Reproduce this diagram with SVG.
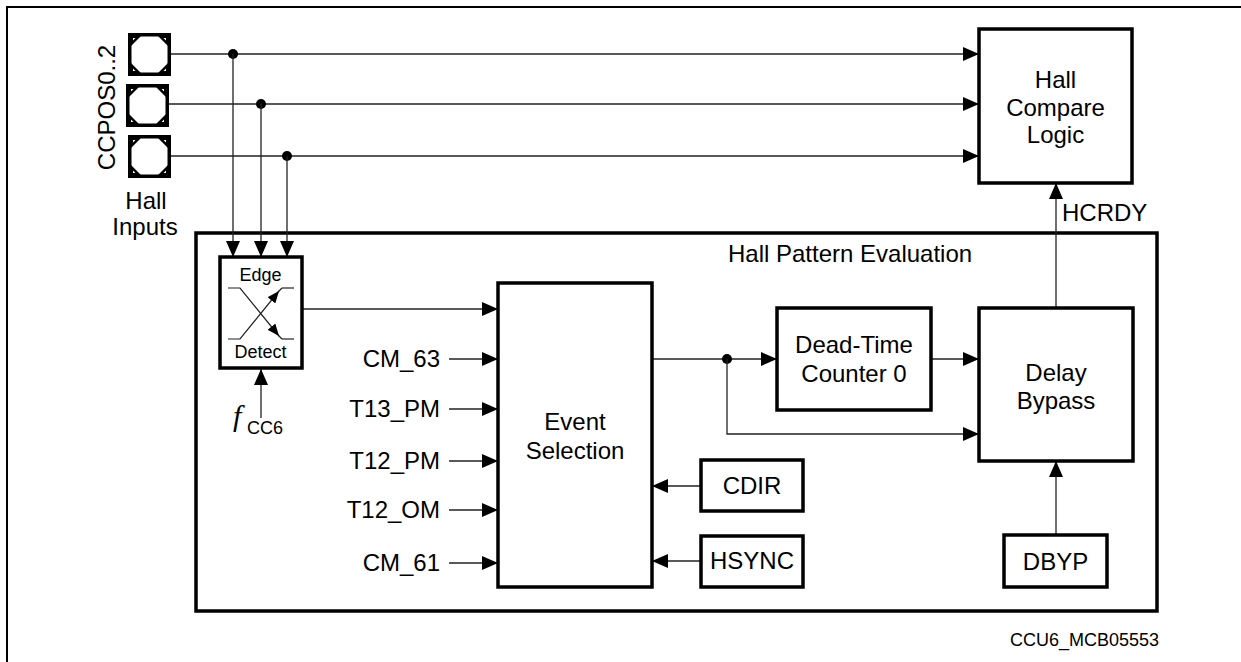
<svg xmlns="http://www.w3.org/2000/svg" width="1241" height="662" viewBox="0 0 1241 662">
<style>
  text { font-family: "Liberation Sans", Arial, sans-serif; font-size: 24px; fill: #000; }
  .box { fill: #fff; stroke: #000; stroke-width: 3.5; }
  .frame { fill: none; stroke: #000; stroke-width: 2; }
  .wire { fill: none; stroke: #222; stroke-width: 1.3; }
  .arr { marker-end: url(#ah); }
  .dot { fill: #000; }
  .mid { text-anchor: middle; }
  .end { text-anchor: end; }
  .sm { font-size: 18px; }
</style>
<defs>
  <marker id="ah" markerUnits="userSpaceOnUse" markerWidth="16" markerHeight="14" refX="16" refY="7" orient="auto">
    <path d="M0,0 L16,7 L0,14 z" fill="#000"/>
  </marker>
  <marker id="ahs" markerUnits="userSpaceOnUse" markerWidth="12" markerHeight="10" refX="12" refY="5" orient="auto">
    <path d="M0,0 L12,5 L0,10 z" fill="#000"/>
  </marker>
  <g id="pad">
    <rect x="1.75" y="1.75" width="39.5" height="39.5" fill="#fff" stroke="#000" stroke-width="3.5"/>
    <path d="M3,3 H13 L3,13 z M40,3 H30 L40,13 z M3,40 H13 L3,30 z M40,40 H30 L40,30 z" fill="#000"/>
    <path d="M5,5 H7.5 L5,7.5 z M38,5 H35.5 L38,7.5 z M5,38 H7.5 L5,35.5 z M38,38 H35.5 L38,35.5 z" fill="#fff"/>
  </g>
</defs>

<!-- outer frame -->
<path class="frame" d="M7,662 V7 H1241"/>

<!-- Hall inputs -->
<g id="hall-inputs">
  <use href="#pad" x="128" y="33"/>
  <use href="#pad" x="126" y="84"/>
  <use href="#pad" x="128" y="135"/>
  <text transform="translate(115,107.5) rotate(-90)" class="mid">CCPOS0..2</text>
  <text x="146" y="209" class="mid">Hall</text>
  <text x="145" y="235" class="mid">Inputs</text>
</g>

<!-- Hall Pattern Evaluation container -->
<g id="hall-pattern-evaluation">
  <rect class="box" x="196" y="233" width="961" height="378" fill="none"/>
  <text x="728" y="262">Hall Pattern Evaluation</text>
</g>

<!-- connectors -->
<g id="connectors">
  <line class="wire arr" x1="171" y1="54" x2="979" y2="54"/>
  <line class="wire arr" x1="169" y1="104" x2="979" y2="104"/>
  <line class="wire arr" x1="171" y1="156" x2="979" y2="156"/>
  <circle class="dot" cx="233" cy="54" r="5"/>
  <circle class="dot" cx="261" cy="104" r="5"/>
  <circle class="dot" cx="287" cy="156" r="5"/>
  <line class="wire arr" x1="233" y1="54" x2="233" y2="257"/>
  <line class="wire arr" x1="261" y1="104" x2="261" y2="257"/>
  <line class="wire arr" x1="287" y1="156" x2="287" y2="257"/>
  <line class="wire arr" x1="261" y1="418" x2="261" y2="369"/>
  <line class="wire arr" x1="302" y1="309" x2="498" y2="309"/>
  <line class="wire arr" x1="449" y1="359" x2="498" y2="359"/>
  <line class="wire arr" x1="449" y1="409" x2="498" y2="409"/>
  <line class="wire arr" x1="449" y1="461" x2="498" y2="461"/>
  <line class="wire arr" x1="449" y1="510" x2="498" y2="510"/>
  <line class="wire arr" x1="449" y1="563" x2="498" y2="563"/>
  <line class="wire arr" x1="701" y1="486" x2="652" y2="486"/>
  <line class="wire arr" x1="701" y1="561" x2="652" y2="561"/>
  <line class="wire arr" x1="652" y1="359" x2="777" y2="359"/>
  <circle class="dot" cx="727" cy="359" r="5"/>
  <polyline class="wire arr" points="727,359 727,434 979,434"/>
  <line class="wire arr" x1="931" y1="359" x2="979" y2="359"/>
  <line class="wire arr" x1="1056" y1="535" x2="1056" y2="461"/>
  <line class="wire arr" x1="1056" y1="308" x2="1056" y2="183"/>
  <text x="1062" y="221">HCRDY</text>
</g>

<!-- Hall Compare Logic -->
<g id="hall-compare-logic">
  <rect class="box" x="979" y="29" width="153" height="154"/>
  <text x="1055.5" y="88" class="mid">Hall</text>
  <text x="1055.5" y="115.5" class="mid">Compare</text>
  <text x="1055.5" y="143" class="mid">Logic</text>
</g>

<!-- Edge Detect -->
<g id="edge-detect">
  <rect class="box" x="220" y="257" width="82" height="111"/>
  <text x="260.5" y="281" class="mid sm">Edge</text>
  <text x="260.5" y="358" class="mid sm">Detect</text>
  <path d="M228,339 H240 L279,291" fill="none" stroke="#222" stroke-width="1.2" marker-end="url(#ahs)"/>
  <line x1="278" y1="292" x2="282" y2="288" stroke="#222" stroke-width="1.2"/>
  <line x1="282" y1="288" x2="294" y2="288" stroke="#222" stroke-width="1.2"/>
  <path d="M228,288 H240 L279,336" fill="none" stroke="#222" stroke-width="1.2" marker-end="url(#ahs)"/>
  <line x1="278" y1="335" x2="282" y2="339" stroke="#222" stroke-width="1.2"/>
  <line x1="282" y1="339" x2="294" y2="339" stroke="#222" stroke-width="1.2"/>
  <text x="233" y="426" style="font-family:'Liberation Serif','Times New Roman',serif;font-style:italic;font-size:30px">f</text>
  <text x="247" y="434" class="sm">CC6</text>
</g>

<!-- Input labels -->
<g id="input-labels">
  <text x="440" y="367" class="end">CM_63</text>
  <text x="440" y="417" class="end">T13_PM</text>
  <text x="440" y="469" class="end">T12_PM</text>
  <text x="440" y="518" class="end">T12_OM</text>
  <text x="440" y="571" class="end">CM_61</text>
</g>

<!-- Event Selection -->
<g id="event-selection">
  <rect class="box" x="498" y="283" width="154" height="304"/>
  <text x="575" y="430" class="mid">Event</text>
  <text x="575" y="459" class="mid">Selection</text>
</g>

<!-- CDIR -->
<g id="cdir">
  <rect class="box" x="701" y="460" width="102" height="51"/>
  <text x="752" y="494" class="mid">CDIR</text>
</g>

<!-- HSYNC -->
<g id="hsync">
  <rect class="box" x="701" y="536" width="102" height="51"/>
  <text x="752" y="569" class="mid">HSYNC</text>
</g>

<!-- Dead-Time Counter 0 -->
<g id="dead-time-counter">
  <rect class="box" x="777" y="308" width="154" height="102"/>
  <text x="854" y="353" class="mid">Dead-Time</text>
  <text x="854" y="382" class="mid">Counter 0</text>
</g>

<!-- Delay Bypass -->
<g id="delay-bypass">
  <rect class="box" x="979" y="308" width="154" height="153"/>
  <text x="1056" y="381" class="mid">Delay</text>
  <text x="1056" y="409" class="mid">Bypass</text>
</g>

<!-- DBYP -->
<g id="dbyp">
  <rect class="box" x="1004" y="535" width="103" height="52"/>
  <text x="1055.5" y="570" class="mid">DBYP</text>
</g>

<text x="1159" y="646" class="end sm">CCU6_MCB05553</text>
</svg>
